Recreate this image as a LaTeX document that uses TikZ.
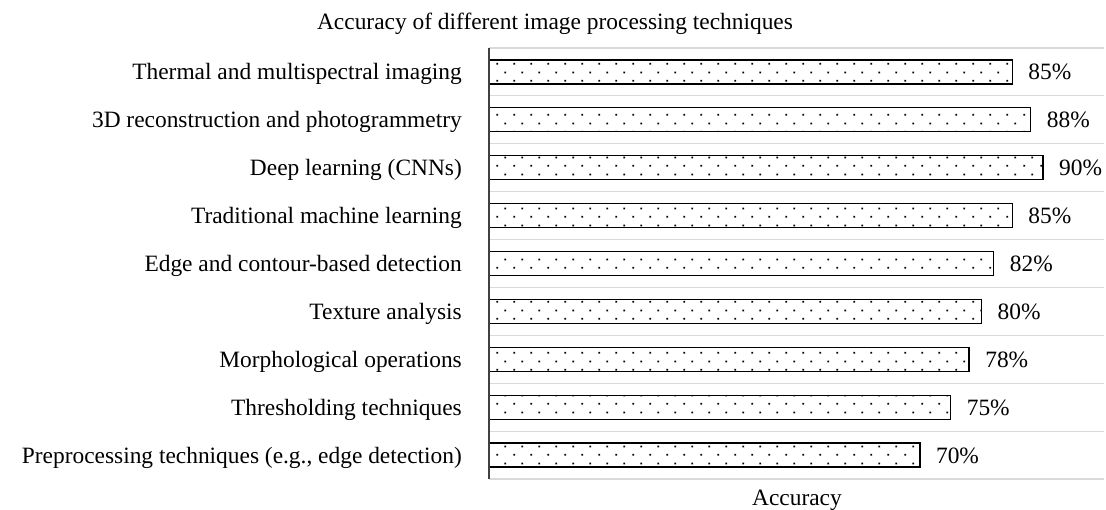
\documentclass[tikz,border=0pt]{standalone}
\usepackage{fontspec}
\setmainfont{Liberation Serif}
\usetikzlibrary{patterns.meta}
\tikzdeclarepattern{
  name=exceldots,
  type=uncolored,
  bounding box={(0pt,0pt) and (17pt,17pt)},
  tile size={(17pt,17pt)},
  code={
    \fill (3.5pt,3.5pt) rectangle (5.3pt,5.3pt);
    \fill (12pt,12pt) rectangle (13.8pt,13.8pt);
  }
}
\tikzset{
  bar/.style={draw=black, line width=1.3pt, pattern={exceldots}, pattern color=black},
  grid line/.style={draw={rgb,255:red,217;green,217;blue,217}, line width=1.1pt},
  axis line/.style={draw={rgb,255:red,64;green,64;blue,64}, line width=1.3pt},
  lbl/.style={font=\fontsize{23.4}{28}\selectfont, inner sep=0pt},
}
\begin{document}
\begin{tikzpicture}[x=1pt,y=-1pt]
\useasboundingbox (0,0) rectangle (1106,510);
\fill[white] (0,0) rectangle (1106,510);
% gridlines
\foreach \i in {0,...,9} {
  \draw[grid line] (489,{48+\i*47.89}) -- (1104,{48+\i*47.89});
}
% bars
\foreach \v [count=\i from 0] in {85,88,90,85,82,80,78,75,70} {
  \pgfmathsetmacro{\cy}{48+(\i+0.5)*47.89}
  \pgfmathsetmacro{\xe}{489+\v*6.155}
  \path[bar] (489,\cy-12) rectangle (\xe,\cy+12);
  \node[lbl, anchor=base west] (v\i) at (\xe+16,\cy+8) {\v\%};
}
% axis
\coordinate (axtop) at (489,48);
\coordinate (axbot) at (489,479);
\draw[axis line] (axtop) -- (axbot);
% category labels
\foreach \t [count=\i from 0] in {Thermal and multispectral imaging,3D reconstruction and photogrammetry,Deep learning (CNNs),Traditional machine learning,Edge and contour-based detection,Texture analysis,Morphological operations,Thresholding techniques,{Preprocessing techniques (e.g., edge detection)}} {
  \pgfmathsetmacro{\cy}{48+(\i+0.5)*47.89}
  \node[lbl, anchor=base east] (c\i) at (462,\cy+8) {\t};
}
\node[lbl, anchor=base] (title) at (555,29.5) {Accuracy of different image processing techniques};
\node[lbl, anchor=base] (xlab) at (797,505) {Accuracy};
\end{tikzpicture}
\end{document}
